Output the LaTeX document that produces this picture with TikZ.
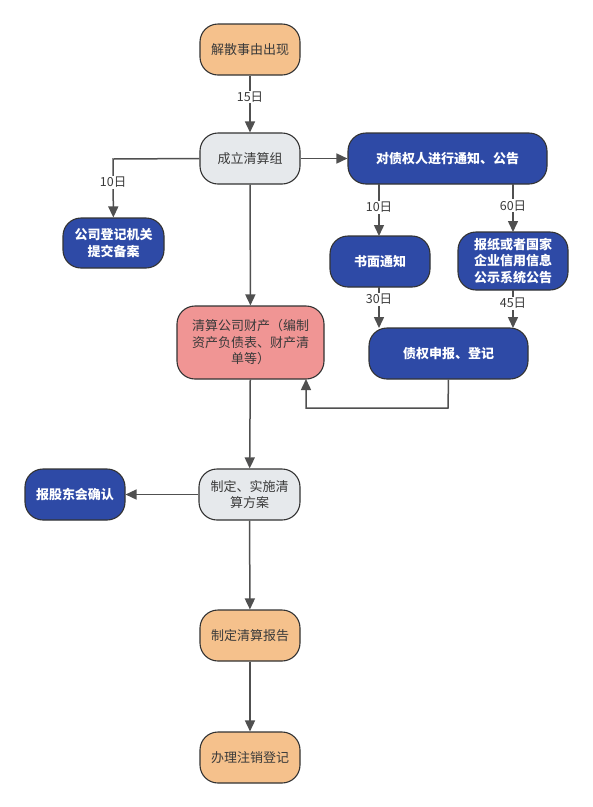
\documentclass[tikz,border=0pt]{standalone}
\usepackage{fontspec}
\newfontfamily\cjk{Noto Sans CJK SC}
\usetikzlibrary{arrows.meta}
\definecolor{orgfill}{HTML}{F5C18C}
\definecolor{grayfill}{HTML}{E6E9EC}
\definecolor{bluefill}{HTML}{2E4AA6}
\definecolor{pinkfill}{HTML}{F09594}
\definecolor{edgecol}{HTML}{505050}
\definecolor{txtgray}{HTML}{3A3A3A}
\tikzset{
  x=1pt, y=-1pt,
  box/.style={draw=black!80, line width=1.1pt, rounded corners=18pt, align=center,
    inner sep=0pt, font=\cjk\fontsize{13}{16.5}\selectfont},
  orange/.style={box, fill=orgfill, text=txtgray},
  grey/.style={box, fill=grayfill, text=txtgray},
  blue/.style={box, fill=bluefill, text=white, font=\cjk\bfseries\fontsize{13}{16.5}\selectfont},
  pink/.style={box, fill=pinkfill, text=txtgray},
  conn/.style={draw=edgecol, line width=1.5pt, -{Triangle[length=11pt,width=10pt]}},
  lbl/.style={fill=white, inner sep=1pt, text=txtgray, font=\cjk\fontsize{12.5}{14}\selectfont},
}
\newcommand{\boxat}[6]{% name, style, x1,y1,x2,y2
  \node[#2, minimum width={#5-#3}, minimum height={#6-#4}] (#1) at ({(#3+#5)/2},{(#4+#6)/2})}
\begin{document}
\begin{tikzpicture}
\useasboundingbox (0,0) rectangle (593,807);
\fill[white] (0,0) rectangle (593,807);

\boxat{a}{orange}{200}{24}{300}{75} {解散事由出现};
\boxat{b}{grey}{200}{133}{300}{184} {成立清算组};
\boxat{c}{blue}{348}{133}{547}{184} {对债权人进行通知、公告};
\boxat{d}{blue}{63}{218}{164}{268} {公司登记机关\\提交备案};
\boxat{e}{blue}{330}{236}{430}{287} {书面通知};
\boxat{f}{blue}{458}{232}{568}{290} {报纸或者国家\\企业信用信息\\公示系统公告};
\boxat{g}{pink}{177}{306}{324}{379} {清算公司财产（编制\\资产负债表、财产清\\单等）};
\boxat{h}{blue}{369}{328}{528}{379} {债权申报、登记};
\boxat{i}{grey}{199}{469}{300}{520} {制定、实施清\\算方案};
\boxat{j}{blue}{25}{469}{125}{520} {报股东会确认};
\boxat{k}{orange}{200}{610}{300}{661} {制定清算报告};
\boxat{l}{orange}{200}{732}{300}{783} {办理注销登记};

\draw[conn] (a) -- node[lbl, pos=0.38] {15日} (b);
\draw[conn] (b) -- (c);
\coordinate (bd) at (113,159);
\draw[conn] (b.west) -- (bd) -- node[lbl, pos=0.4] {10日} (d);
\coordinate (ce) at (379,184);
\coordinate (cf) at (513,184);
\coordinate (ee) at (379,236);
\coordinate (ff) at (513,232);
\draw[conn] (ce) -- node[lbl, pos=0.45] {10日} (ee);
\draw[conn] (cf) -- node[lbl, pos=0.45] {60日} (ff);
\coordinate (es) at (379,287);
\coordinate (fs) at (513,290);
\coordinate (h1) at (379,328);
\coordinate (h2) at (513,328);
\draw[conn] (es) -- node[lbl, pos=0.3] {30日} (h1);
\draw[conn] (fs) -- node[lbl, pos=0.35] {45日} (h2);
\draw[conn] (b) -- (g);
\coordinate (hr) at (448,408);
\coordinate (hl) at (306,408);
\coordinate (gb) at (306,379);
\draw[conn] (h.south) -- (hr) -- (hl) -- (gb);
\draw[conn] (g) -- (i);
\draw[conn] (i) -- (j);
\draw[conn] (i) -- (k);
\draw[conn] (k) -- (l);
\end{tikzpicture}
\end{document}
